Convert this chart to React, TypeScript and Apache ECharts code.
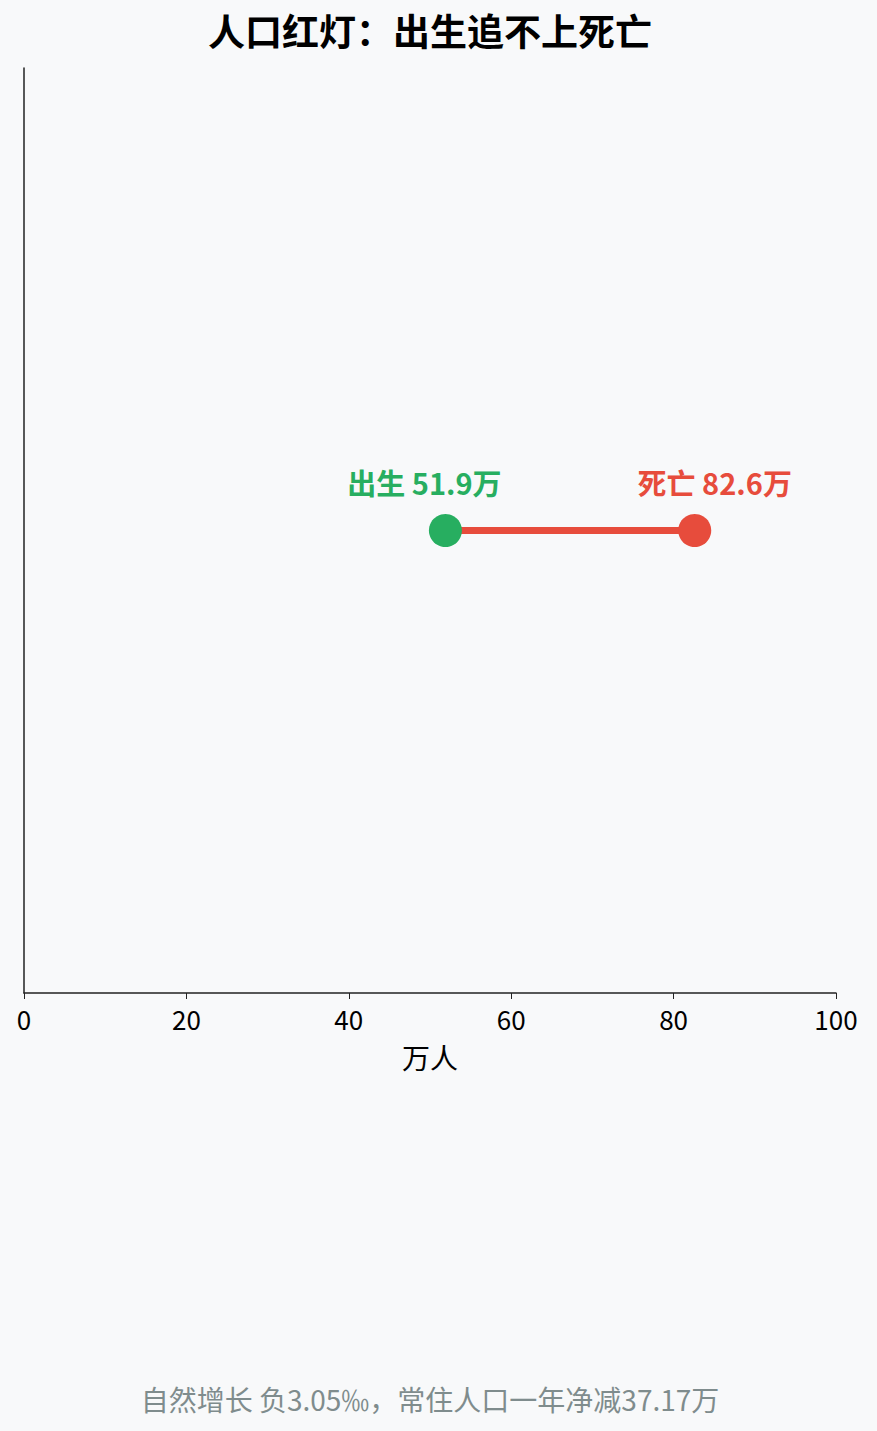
import React, { useEffect, useRef } from "react";
import * as echarts from "echarts";

const titleText = "人口红灯：出生追不上死亡";
const footnote = "自然增长 负3.05‰，常住人口一年净减37.17万";
const categories = ["2023"];
const pointNames = ["出生", "死亡"];
const pointValues = [51.9, 82.6];
const pointColors = ["#27ae60", "#e74c3c"];
const labelOffsets = [-21, 20];
const xTicks = { min: 0, max: 100, interval: 20 };
const axisName = "万人";

const FONT = "'Noto Sans CJK SC', 'Noto Sans', sans-serif";

export default function App() {
  const ref = useRef<HTMLDivElement>(null);
  useEffect(() => {
    if (!ref.current) return;
    const chart = echarts.init(ref.current, undefined, { renderer: "svg" });
    chart.setOption({
      animation: false,
      backgroundColor: "#f8f9fa",
      textStyle: { fontFamily: FONT },
      graphic: [
        {
          type: "text",
          x: 430,
          y: 30,
          style: {
            text: titleText,
            fontSize: 37,
            fontWeight: "bold",
            fontFamily: FONT,
            fill: "#000",
            textAlign: "center",
            textVerticalAlign: "middle",
          },
        },
        {
          type: "text",
          x: 430,
          y: 1399,
          style: {
            text: footnote,
            fontSize: 28,
            fontFamily: FONT,
            fill: "#7f8c8d",
            textAlign: "center",
            textVerticalAlign: "middle",
          },
        },
      ],
      grid: { left: 24, right: 41, top: 68, bottom: 438, containLabel: false },
      xAxis: {
        type: "value",
        min: xTicks.min,
        max: xTicks.max,
        interval: xTicks.interval,
        name: axisName,
        nameLocation: "middle",
        nameGap: 50,
        nameTextStyle: { fontSize: 28, color: "#000", fontFamily: FONT },
        axisLine: { show: true, lineStyle: { color: "#222", width: 1.5 } },
        axisTick: { show: true, length: 6, lineStyle: { color: "#222" } },
        axisLabel: { fontSize: 26, color: "#000", margin: 12, fontFamily: FONT },
        splitLine: { show: false },
      },
      yAxis: {
        type: "category",
        data: categories,
        axisLine: { show: true, lineStyle: { color: "#222", width: 1.5 } },
        axisTick: { show: false },
        axisLabel: { show: false },
        splitLine: { show: false },
      },
      series: [
        {
          type: "line",
          data: pointValues.map((v) => [v, categories[0]]),
          showSymbol: false,
          symbol: "none",
          lineStyle: { color: pointColors[1], width: 7 },
          z: 2,
        },
        {
          type: "scatter",
          symbolSize: 33,
          z: 3,
          data: pointValues.map((v, i) => ({
            value: [v, categories[0]],
            name: pointNames[i],
            itemStyle: { color: pointColors[i], opacity: 1 },
            label: {
              show: true,
              position: "top",
              distance: 18,
              offset: [labelOffsets[i], 0],
              formatter: `${pointNames[i]} ${v}万`,
              color: pointColors[i],
              fontSize: 29,
              fontWeight: "bold",
              fontFamily: FONT,
            },
          })),
        },
      ],
    });
    return () => chart.dispose();
  }, []);
  return (
    <div
      ref={ref}
      style={{ position: "fixed", left: 0, top: 0, width: 877, height: 1431 }}
    />
  );
}
